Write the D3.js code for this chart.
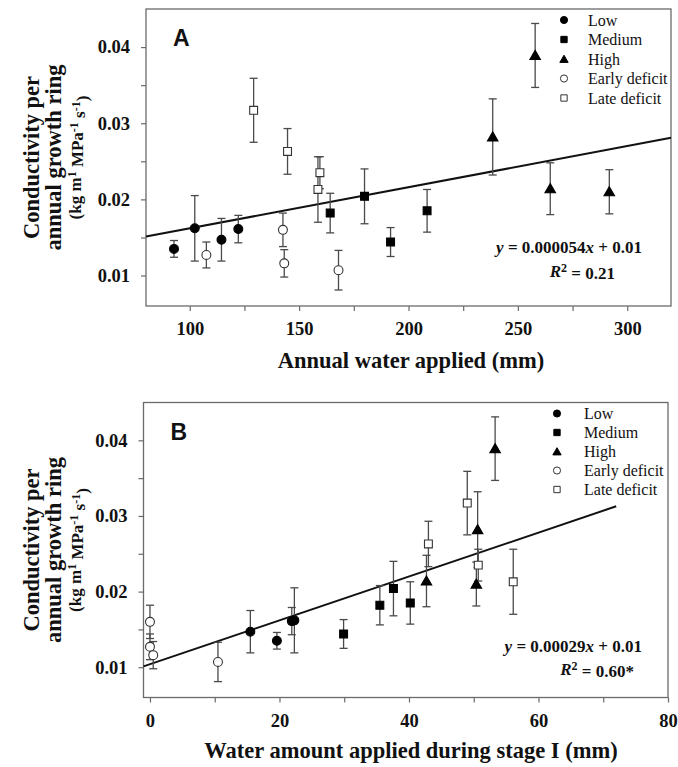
<!DOCTYPE html>
<html>
<head>
<meta charset="utf-8">
<script src="https://cdn.jsdelivr.net/npm/d3@7"></script>
<style>
  html, body { margin: 0; padding: 0; background: #fff; }
  svg { display: block; }
  text { font-family: "Liberation Serif", "Times New Roman", serif; fill: #111; }
</style>
</head>
<body>
<svg id="chart" width="678" height="767"></svg>
<script>
// Treatments, their marker shapes and fills
const groups = ["Low", "Medium", "High", "Early deficit", "Late deficit"];
const groupSymbols = [d3.symbolCircle, d3.symbolSquare, d3.symbolTriangle, d3.symbolCircle, d3.symbolSquare];
const groupFilled = [true, true, true, false, false];

// Each row: [annual water applied (mm), water applied in stage I (mm), conductivity, error]
const low = [
  [92.8, 19.6, 0.0135, 0.0011],
  [102.3, 22.3, 0.0162, 0.0043],
  [114.5, 15.5, 0.0147, 0.0028],
  [122.2, 21.9, 0.0161, 0.0018]
];
const medium = [
  [164.2, 35.5, 0.0182, 0.0026],
  [179.9, 37.6, 0.0204, 0.0036],
  [191.8, 29.9, 0.0144, 0.0019],
  [208.5, 40.2, 0.0185, 0.0028]
];
const high = [
  [257.9, 53.3, 0.0389, 0.0042],
  [238.5, 50.6, 0.0282, 0.0050],
  [264.8, 42.7, 0.0214, 0.0034],
  [291.8, 50.4, 0.0210, 0.0029]
];
const earlyDeficit = [
  [107.6, 0.0, 0.0127, 0.0017],
  [142.6, 0.0, 0.0160, 0.0022],
  [143.2, 0.5, 0.0116, 0.0018],
  [168.0, 10.5, 0.0107, 0.0026]
];
const lateDeficit = [
  [129.2, 49.0, 0.0317, 0.0042],
  [144.7, 43.0, 0.0263, 0.0030],
  [159.5, 50.7, 0.0235, 0.0021],
  [158.6, 56.1, 0.0213, 0.0043]
];
const seriesData = [low, medium, high, earlyDeficit, lateDeficit];

// Linear fits: [slope, intercept, R²]
const fitA = [0.000054, 0.0108, 0.21];
const fitB = [0.00029, 0.0104, 0.60];

// Axis ticks
const yMajorTicks = [0.01, 0.02, 0.03, 0.04];
const yMinorTicks = [0.015, 0.025, 0.035];
const xMajorTicksA = [100, 150, 200, 250, 300];
const xMinorTicksA = [125, 175, 225, 275];
const xMajorTicksB = [0, 20, 40, 60, 80];
const xMinorTicksB = [10, 30, 50, 70];

const svg = d3.select("#chart");
const axisColor = "#6a6a6a";

const panels = [
  {
    letter: "A", xIndex: 0,
    box: { left: 146, right: 671, top: 9, bottom: 306 },
    xDomain: [80, 320], lineX: [80, 320],
    xMajor: xMajorTicksA, xMinor: xMinorTicksA,
    fit: fitA, star: "",
    xTitle: "Annual water applied (mm)", xTitleY: 368,
    legend: { mx: 564, tx: 588, y0: 20, dy: 19.5 },
    eq: { x: 642, y: 247, rx: 615, ry: 271 }
  },
  {
    letter: "B", xIndex: 1,
    box: { left: 143.5, right: 668, top: 402.5, bottom: 697.5 },
    xDomain: [-1, 80], lineX: [-1, 72],
    xMajor: xMajorTicksB, xMinor: xMinorTicksB,
    fit: fitB, star: "*",
    xTitle: "Water amount applied during stage I (mm)", xTitleY: 758,
    legend: { mx: 557, tx: 584, y0: 413.5, dy: 19 },
    eq: { x: 642, y: 646, rx: 634, ry: 669 }
  }
];

function markerSize(type, big) {
  if (type === d3.symbolTriangle) return big ? 48 : 30;
  return big ? 62 : 40;
}

panels.forEach(p => {
  const b = p.box;
  const x = d3.scaleLinear().domain(p.xDomain).range([b.left, b.right]);
  const y = d3.scaleLinear().domain([0.006, 0.045]).range([b.bottom, b.top]);
  const g = svg.append("g");

  // frame
  g.append("rect")
    .attr("x", b.left).attr("y", b.top)
    .attr("width", b.right - b.left).attr("height", b.bottom - b.top)
    .attr("fill", "none").attr("stroke", axisColor).attr("stroke-width", 1.3);

  // y axis
  g.append("g").attr("transform", `translate(${b.left},0)`)
    .call(d3.axisLeft(y).tickValues(yMajorTicks).tickSize(5).tickPadding(11)
      .tickFormat(d3.format(".2f")));
  g.append("g").attr("transform", `translate(${b.left},0)`)
    .call(d3.axisLeft(y).tickValues(yMinorTicks).tickSize(5).tickFormat(""));

  // x axis
  g.append("g").attr("transform", `translate(0,${b.bottom})`)
    .call(d3.axisBottom(x).tickValues(p.xMajor).tickSize(5).tickPadding(11)
      .tickFormat(d3.format("d")));
  g.append("g").attr("transform", `translate(0,${b.bottom})`)
    .call(d3.axisBottom(x).tickValues(p.xMinor).tickSize(5).tickFormat(""));

  g.selectAll(".domain").remove();
  g.selectAll(".tick line").attr("stroke", axisColor).attr("stroke-width", 1.2);
  g.selectAll(".tick text")
    .style("font-family", "'Liberation Serif', serif")
    .style("font-weight", "bold").style("font-size", "18.5px").attr("fill", "#111");

  // regression line
  const [slope, intercept, r2] = p.fit;
  g.append("line")
    .attr("x1", x(p.lineX[0])).attr("y1", y(slope * p.lineX[0] + intercept))
    .attr("x2", x(p.lineX[1])).attr("y2", y(slope * p.lineX[1] + intercept))
    .attr("stroke", "#111").attr("stroke-width", 2);

  // error bars, then markers on top
  seriesData.forEach((rows, gi) => {
    rows.forEach(r => {
      const cx = x(r[p.xIndex]);
      const yt = y(r[2] + r[3]);
      const yb = y(r[2] - r[3]);
      const eb = g.append("g").attr("stroke", "#4a4a4a").attr("stroke-width", 1.3);
      eb.append("line").attr("x1", cx).attr("x2", cx).attr("y1", yt).attr("y2", yb);
      eb.append("line").attr("x1", cx - 4).attr("x2", cx + 4).attr("y1", yt).attr("y2", yt);
      eb.append("line").attr("x1", cx - 4).attr("x2", cx + 4).attr("y1", yb).attr("y2", yb);
    });
  });
  seriesData.forEach((rows, gi) => {
    const type = groupSymbols[gi];
    const sym = d3.symbol().type(type).size(markerSize(type, true));
    rows.forEach(r => {
      const cx = x(r[p.xIndex]);
      const cy = y(r[2]);
      g.append("path").attr("d", sym())
        .attr("transform", `translate(${cx},${cy + (type === d3.symbolTriangle ? 1 : 0)})`)
        .attr("fill", groupFilled[gi] ? "#000" : "#fff")
        .attr("stroke", groupFilled[gi] ? "#000" : "#333")
        .attr("stroke-width", 1.1);
    });
  });

  // panel letter
  g.append("text").attr("x", b.left + 27).attr("y", b.top + 37)
    .style("font-family", "'Liberation Sans', Arial, sans-serif")
    .style("font-weight", "bold").style("font-size", "23px")
    .text(p.letter);

  // legend
  groups.forEach((name, gi) => {
    const ly = p.legend.y0 + gi * p.legend.dy;
    const type = groupSymbols[gi];
    const sym = d3.symbol().type(type).size(markerSize(type, false));
    g.append("path").attr("d", sym())
      .attr("transform", `translate(${p.legend.mx},${ly + (type === d3.symbolTriangle ? 1 : 0)})`)
      .attr("fill", groupFilled[gi] ? "#000" : "#fff")
      .attr("stroke", groupFilled[gi] ? "#000" : "#333").attr("stroke-width", 1);
    g.append("text").attr("x", p.legend.tx).attr("y", ly).attr("dy", "0.35em")
      .style("font-size", "16px").text(name);
  });

  // fit equation and R²
  const eq = g.append("text").attr("x", p.eq.x).attr("y", p.eq.y).attr("dy", "0.35em")
    .attr("text-anchor", "end").style("font-weight", "bold").style("font-size", "17px");
  eq.append("tspan").style("font-style", "italic").text("y");
  eq.append("tspan").text(" = " + String(slope));
  eq.append("tspan").style("font-style", "italic").text("x");
  eq.append("tspan").text(" + " + d3.format(".2f")(intercept));

  const rt = g.append("text").attr("x", p.eq.rx).attr("y", p.eq.ry).attr("dy", "0.35em")
    .attr("text-anchor", "end").style("font-weight", "bold").style("font-size", "17px");
  rt.append("tspan").style("font-style", "italic").text("R");
  rt.append("tspan").attr("dy", "-0.4em").style("font-size", "12px").text("2");
  rt.append("tspan").attr("dy", "0.4em").text(" = " + d3.format(".2f")(r2) + p.star);

  // x title
  g.append("text").attr("x", 411).attr("y", p.xTitleY)
    .attr("text-anchor", "middle").style("font-weight", "bold").style("font-size", "22.5px")
    .text(p.xTitle);

  // y title
  const cyMid = (b.top + b.bottom) / 2;
  const yt = g.append("g").attr("transform", `translate(0,${cyMid}) rotate(-90)`);
  yt.append("text").attr("x", 0).attr("y", 31).attr("dy", "0.35em")
    .attr("text-anchor", "middle").style("font-weight", "bold").style("font-size", "22.5px")
    .text("Conductivity per");
  yt.append("text").attr("x", 0).attr("y", 53).attr("dy", "0.35em")
    .attr("text-anchor", "middle").style("font-weight", "bold").style("font-size", "22.5px")
    .text("annual growth ring");
  const u = yt.append("text").attr("x", 0).attr("y", 75).attr("dy", "0.35em")
    .attr("text-anchor", "middle").style("font-weight", "bold").style("font-size", "17px");
  u.append("tspan").text("(kg m");
  u.append("tspan").attr("dy", "-0.45em").style("font-size", "12px").text("1");
  u.append("tspan").attr("dy", "0.45em").text(" MPa");
  u.append("tspan").attr("dy", "-0.45em").style("font-size", "12px").text("-1");
  u.append("tspan").attr("dy", "0.45em").text(" s");
  u.append("tspan").attr("dy", "-0.45em").style("font-size", "12px").text("-1");
  u.append("tspan").attr("dy", "0.45em").text(")");
});
</script>
</body>
</html>
